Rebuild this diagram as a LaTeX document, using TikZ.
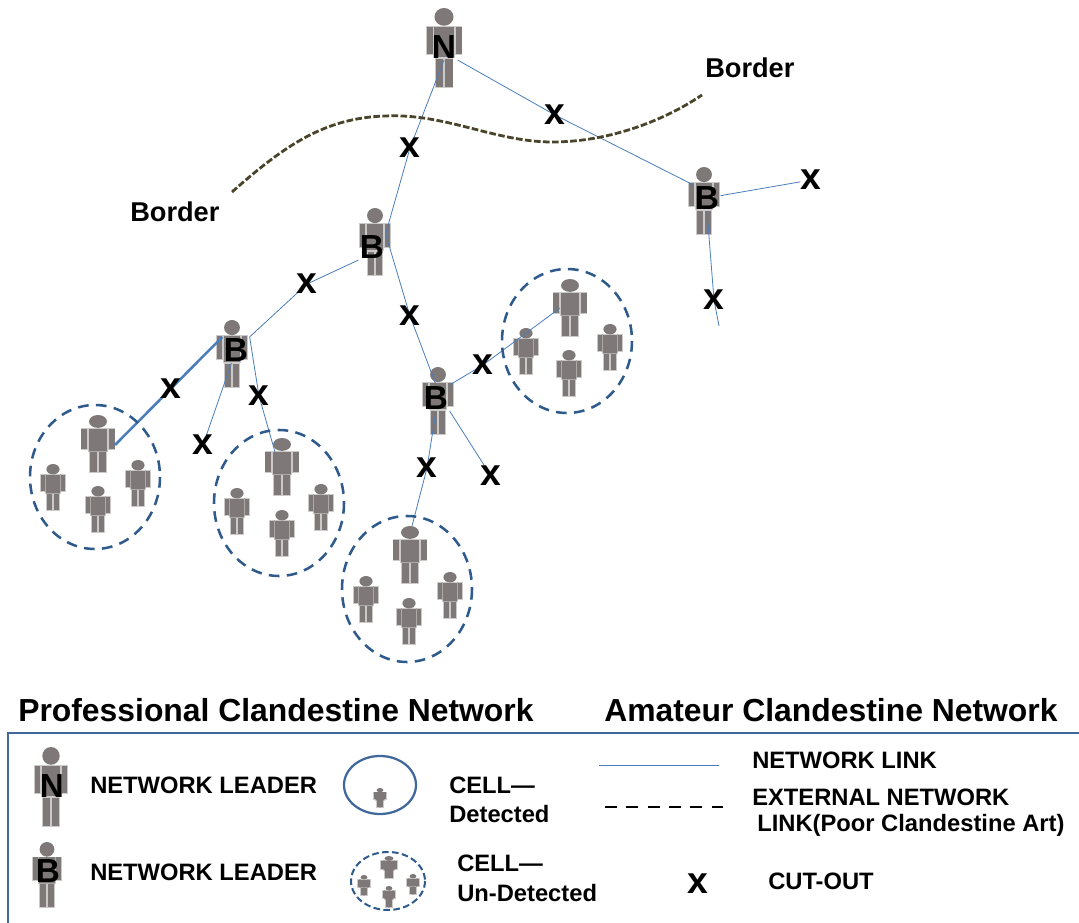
\documentclass[tikz,border=0pt]{standalone}
\usepackage{fontspec}
\setmainfont{Liberation Sans}
\pgfdeclarelayer{figs}
\pgfdeclarelayer{links}
\pgfsetlayers{figs,links,main}
\definecolor{fig}{HTML}{7F7878}
\definecolor{linkc}{HTML}{4A7EBB}
\definecolor{cellc}{HTML}{2F5A8C}
\definecolor{borderc}{HTML}{4A452A}
\definecolor{boxc}{HTML}{41689B}
\tikzset{
  x=0.75pt,y=-0.75pt,
  figpart/.style={fill=fig,draw=fig,draw opacity=.4,line width=1.4pt},
  lead/.style={font=\bfseries\fontsize{25}{25}\selectfont,inner sep=1pt,text=black},
  cut/.style={font=\bfseries\fontsize{28}{28}\selectfont,inner sep=0pt,text=black},
  link/.style={draw=linkc,line width=.6pt},
  thicklink/.style={draw=linkc,line width=1.9pt},
  cell/.style={draw=cellc,line width=1.9pt,dash pattern=on 8pt off 5.5pt},
  title/.style={font=\bfseries\fontsize{23.9}{24}\selectfont,anchor=west,inner sep=0pt},
  lab/.style={font=\bfseries\fontsize{17.8}{18}\selectfont,anchor=west,inner sep=0pt},
  blab/.style={font=\bfseries\fontsize{20.4}{20}\selectfont,anchor=west,inner sep=0pt},
}
% centre x, top y, width, height
\newcommand{\person}[4]{%
  \begin{pgfonlayer}{figs}
  \begin{scope}[shift={(#1,#2)},x=0.75pt*(#3)/36,y=-0.75pt*(#4)/81]
    \fill[fig] (0,9) ellipse [x radius=9.5,y radius=9];
    \path[figpart] (-17.5,19) rectangle (-11.5,47);
    \path[figpart] (11.5,19) rectangle (17.5,47);
    \path[figpart] (-10,19) rectangle (10,50);
    \path[figpart] (-8.5,52) rectangle (-1,80);
    \path[figpart] (1,52) rectangle (8.5,80);
  \end{scope}
  \end{pgfonlayer}}
\begin{document}
\begin{tikzpicture}
\useasboundingbox (0,0) rectangle (1079,923);
\clip (0,0) rectangle (1079,923);

% figures
\person{444}{8}{36}{80}
\person{704}{167}{30}{68}
\person{375}{208}{30}{68}
\person{232}{320}{30}{68}
\person{438}{367}{30}{68}
% cell 1
\person{98}{415}{34}{58}\person{53}{464}{25}{47}\person{98}{486}{25}{47}\person{138}{460}{25}{47}
% cell 2
\person{282}{438}{34}{58}\person{237}{488}{25}{47}\person{282}{510}{25}{47}\person{321}{484}{25}{47}
% cell 3
\person{410}{526}{34}{58}\person{366}{576}{25}{47}\person{409}{598}{25}{47}\person{450}{572}{25}{47}
% cell 4
\person{570}{279}{34}{58}\person{526}{328}{25}{47}\person{569}{350}{25}{47}\person{610}{324}{25}{47}
% legend figures
\person{51}{747}{33}{80}
\person{47}{842}{28}{66}
\person{380}{788}{13}{19}
\person{389}{856}{17}{22}
\person{364}{875}{13}{20}
\person{389}{886}{13}{21}
\person{413}{874}{13}{20}

% cells
\draw[cell] (95,477) ellipse [x radius=65,y radius=72];
\draw[cell] (279,503) ellipse [x radius=65,y radius=73];
\draw[cell] (407,589) ellipse [x radius=65,y radius=73];
\draw[cell] (567,341) ellipse [x radius=65,y radius=72];

% border
\draw[borderc,line width=2.1pt,dash pattern=on 5pt off 1.8pt]
  (232,192) .. controls (285,145) and (325,118) .. (385,116)
  .. controls (445,113) and (495,142) .. (552,142)
  .. controls (610,142) and (665,120) .. (702,95);

% leaders
\node[lead] (N) at (444,47) {N};
\node[lead] (Br) at (707,198) {B};
\node[lead] (Bc) at (372,247) {B};
\node[lead] (Bl) at (236,350) {B};
\node[lead] (Bm) at (436,398) {B};

% cut-outs
\node[cut] (xa) at (410,148) {x};
\node[cut] (xb) at (555,115) {x};
\node[cut] (xc) at (811,180) {x};
\node[cut] (xd) at (714,300) {x};
\node[cut] (xe) at (307,284) {x};
\node[cut] (xf) at (410,316) {x};
\node[cut] (xg) at (171,389) {x};
\node[cut] (xh) at (203,445) {x};
\node[cut] (xi) at (259,396) {x};
\node[cut] (xj) at (483,365) {x};
\node[cut] (xk) at (491,476) {x};
\node[cut] (xl) at (427,468) {x};

% connector ends at cell leaders
\coordinate (c1) at (115,445);
\coordinate (c2) at (275,452);
\coordinate (c3) at (412,526);
\coordinate (c4) at (560,308);
\coordinate (free) at (719,326);

\begin{pgfonlayer}{links}
\draw[link] (N.south) -- (xa.center) -- (Bc.north east);
\draw[link] (N.south east) -- (xb.center) -- (Br.north west);
\draw[link] (Br) -- (xc);
\draw[link] (Br.south) -- (xd.center) -- (free);
\draw[link] (Bc.south west) -- (xe.center) -- (Bl.north east);
\draw[link] (Bc.north east) -- (xf.center) -- (Bm.north);
\draw[thicklink] (Bl.north west) -- (c1);
\draw[link] (Bl) -- (xh);
\draw[link] (Bl.north east) -- (xi.center) -- (c2);
\draw[link] (Bm.north east) -- (xj.center) -- (c4);
\draw[link] (Bm.south east) -- (xk);
\draw[link] (Bm.south) -- (xl.center) -- (c3);
\end{pgfonlayer}

% labels
\node[blab] (bt1) at (705,68) {Border};
\node[blab] (bt2) at (130,212) {Border};

% legend
\node[title] (tp) at (18,710) {Professional Clandestine Network};
\node[title] (ta) at (604,710) {Amateur Clandestine Network};
\draw[boxc,line width=1.5pt] (1085,733) -- (8,733) -- (8,930);

\node[lead] (lN) at (52,786) {N};
\node[lead] (lB) at (48,871) {B};
\node[lab] (l1) at (90,785) {NETWORK LEADER};
\node[lab] (l2) at (90,872) {NETWORK LEADER};
\draw[draw=boxc,line width=1.7pt] (380,785) ellipse [x radius=36,y radius=29];
\draw[cell,line width=1.5pt,dash pattern=on 5pt off 2.5pt] (388,881) ellipse [x radius=37,y radius=29];
\node[lab] (l3) at (449,785) {CELL—};
\node[lab] (l4) at (449,814) {Detected};
\node[lab] (l5) at (457,863) {CELL—};
\node[lab] (l6) at (457,893) {Un-Detected};
\coordinate (la) at (599,765);
\coordinate (lb) at (719,765);
\coordinate (lc) at (605,807);
\coordinate (ld) at (723,807);
\draw[link] (la) -- (lb);
\draw[black,line width=1.7pt,dash pattern=on 9pt off 7pt] (lc) -- (ld);
\node[lab] (l7) at (752,760) {NETWORK LINK};
\node[lab] (l8) at (752,797) {EXTERNAL NETWORK};
\node[lab] (l9) at (757,825) {LINK(Poor Clandestine Art)};
\node[cut] (lx) at (698,884) {x};
\node[lab] (l10) at (768,881) {CUT-OUT};
\end{tikzpicture}
\end{document}
